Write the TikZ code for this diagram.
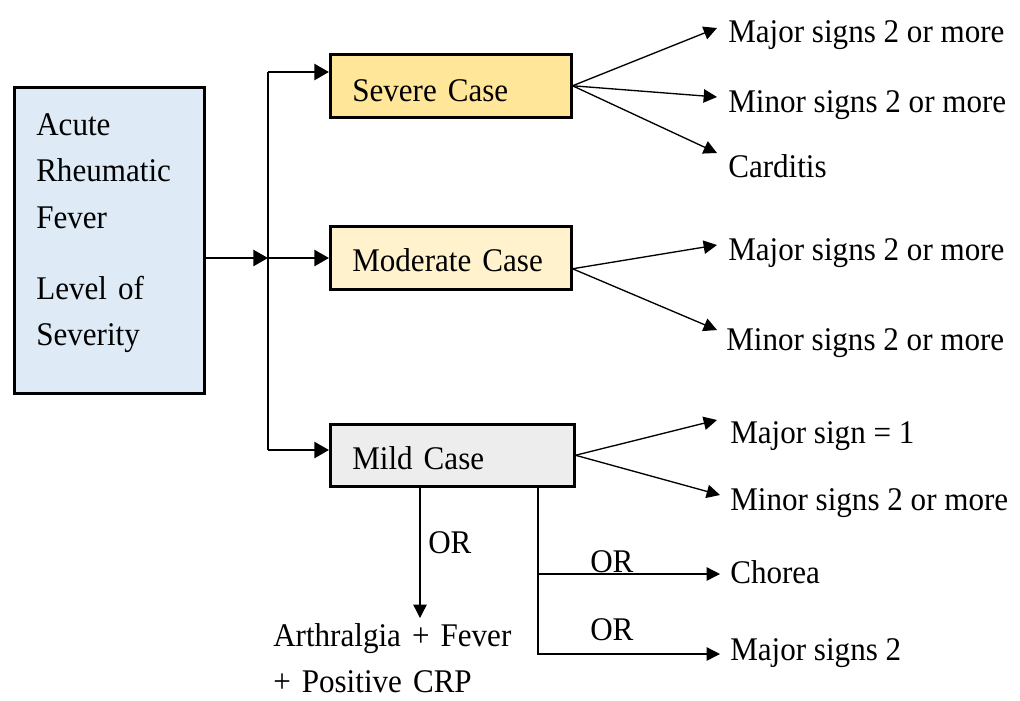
\documentclass[tikz,border=0pt]{standalone}
\usepackage{fontspec}
\setmainfont[FakeStretch=0.94]{Liberation Serif}
\usetikzlibrary{arrows.meta,calc}
\definecolor{mainfill}{HTML}{DEEBF7}
\definecolor{sevfill}{HTML}{FFE699}
\definecolor{modfill}{HTML}{FFF2CC}
\definecolor{mildfill}{HTML}{EDEDED}
\tikzset{
  box/.style={draw=black, line width=1.9pt, inner ysep=0pt, inner xsep=16.5pt, align=left, anchor=north west},
  lbl/.style={inner sep=0pt, anchor=base west},
  bigarrow/.style={line width=1.9pt, -{Triangle[length=11pt,width=12pt]}},
  bigline/.style={line width=1.9pt},
  smallarrow/.style={line width=1pt, -{Triangle[length=10pt,width=10pt]}},
  smallline/.style={line width=1pt},
}
\begin{document}
\begin{tikzpicture}[x=0.75pt,y=-0.75pt,font=\fontsize{24.8}{34.9}\selectfont]
\useasboundingbox (0,0) rectangle (1020,700);
\fill[white] (0,0) rectangle (1020,700);
% boxes
\node[box, fill=mainfill, text width=109.5pt, text height=36pt, text depth=193.5pt] (main) at (13,86)
  {Acute\\Rheumatic\\Fever\\[18.4pt]Level of\\Severity};
\node[box, fill=sevfill, text width=147.75pt, text height=35.25pt, text depth=12pt] (sev) at (329,53) {Severe Case};
\node[box, fill=modfill, text width=147.75pt, text height=33.75pt, text depth=13.5pt] (mod) at (329,225) {Moderate Case};
\node[box, fill=mildfill, text width=150pt, text height=33.75pt, text depth=12.75pt] (mild) at (329,423) {Mild Case};
% labels
\node[lbl] (s1) at (728,42) {Major signs 2 or more};
\node[lbl] (s2) at (728,112) {Minor signs 2 or more};
\node[lbl] (s3) at (728,177) {Carditis};
\node[lbl] (m1) at (728,260) {Major signs 2 or more};
\node[lbl] (m2) at (726,350) {Minor signs 2 or more};
\node[lbl] (l1) at (730,443) {Major sign = 1};
\node[lbl] (l2) at (730,510) {Minor signs 2 or more};
\node[lbl] (ch) at (730,583) {Chorea};
\node[lbl] (mj) at (730,660) {Major signs 2};
\node[lbl, text width=190pt, align=left, font=\fontsize{24.8}{34.5}\selectfont] (art) at (273,646) {Arthralgia + Fever\\+ Positive CRP};
\node[lbl] (or1) at (428,553) {OR};
\node[lbl] (or2) at (590,572) {OR};
\node[lbl] (or3) at (590,640) {OR};
% coordinates
\coordinate (j) at (268,258);
\coordinate (jt) at (268,72);
\coordinate (jb) at (268,450);
\coordinate (ts1) at (717,28);
\coordinate (ts2) at (717,97);
\coordinate (ts3) at (717,153);
\coordinate (tm1) at (717,245);
\coordinate (tm2) at (717,330);
\coordinate (tl1) at (717,420);
\coordinate (tl2) at (720,495);
\coordinate (ta) at (420,618);
\coordinate (b1) at (538,574);
\coordinate (b2) at (538,654);
\coordinate (tc) at (720,574);
\coordinate (tj) at (720,654);
% main connectors
\draw[bigarrow] (main.east |- j) -- (j);
\draw[bigline] (jt) -- (jb);
\draw[bigarrow] (jt) -- (jt -| sev.west);
\draw[bigarrow] (j) -- (j -| mod.west);
\draw[bigarrow] (jb) -- (jb -| mild.west);
% severe
\draw[smallarrow] (sev.east) -- (ts1);
\draw[smallarrow] (sev.east) -- (ts2);
\draw[smallarrow] (sev.east) -- (ts3);
% moderate
\draw[smallarrow] ([yshift=-8.25pt]mod.east) -- (tm1);
\draw[smallarrow] ([yshift=-8.25pt]mod.east) -- (tm2);
% mild
\draw[smallarrow] (mild.east) -- (tl1);
\draw[smallarrow] (mild.east) -- (tl2);
\draw[smallarrow] (mild.south -| ta) -- (ta);
\draw[smallarrow] (mild.south -| b1) -- (b2) -- (tj);
\draw[smallarrow] (b1) -- (tc);
\end{tikzpicture}
\end{document}
